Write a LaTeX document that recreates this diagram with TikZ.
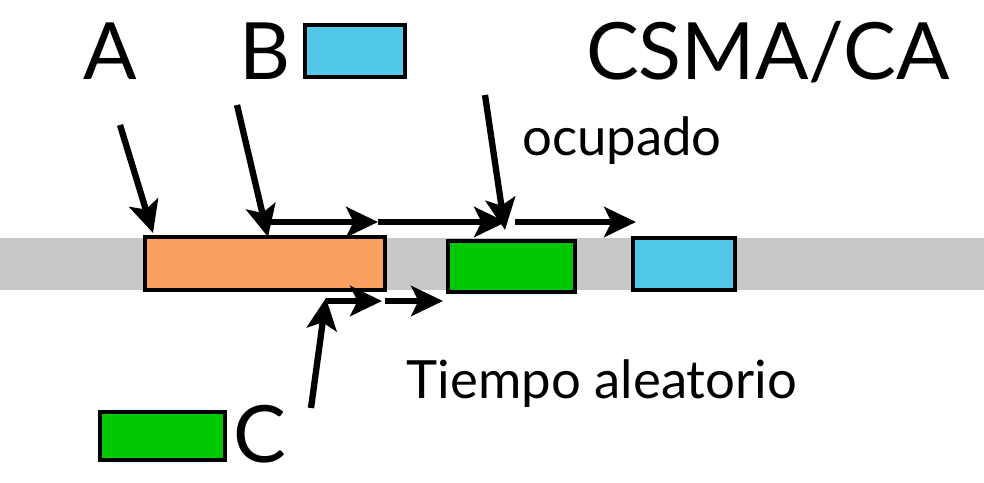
\documentclass[tikz,border=0pt]{standalone}
\usepackage{fontspec}
\setmainfont{Lato}
\usepackage{tikz}
\usetikzlibrary{positioning,calc,arrows.meta}
\definecolor{busgray}{RGB}{200,200,200}
\definecolor{frameorange}{RGB}{250,160,96}
\definecolor{framegreen}{RGB}{0,200,0}
\definecolor{frameblue}{RGB}{82,200,235}

\begin{document}
\begin{tikzpicture}[x=0.02cm, y=-0.02cm, frame/.style={draw=black, line width=2.4pt, inner sep=0pt, minimum height=1.04cm}, station/.style={anchor=base, inner sep=0pt, font=\fontsize{45}{50}\selectfont}, note/.style={anchor=base, inner sep=0pt, font=\fontsize{30}{35}\selectfont}, arrow/.style={-{Stealth[length=18pt 0, width=17pt 0, inset=4pt 0]}, line width=3.6pt}]
\useasboundingbox (0,0) rectangle (984,483);
\fill[busgray] (0,238) rectangle (984,290);
\node[frame, fill=frameorange, minimum width=4.8cm, minimum height=1.06cm] (fa) at (265,263.5) {};
\node[frame, fill=framegreen, minimum width=2.54cm, minimum height=1.02cm] (fc) at (511.5,266.5) {};
\node[frame, fill=frameblue, minimum width=2.04cm] (fb) at (684,264) {};
\node[frame, fill=frameblue, minimum width=2.0cm] (legb) at (355,51) {};
\node[frame, fill=framegreen, minimum width=2.5cm, minimum height=0.96cm] (legc) at (162.5,436) {};
\node[station] (sa) at (110,80) {A};
\node[station] (sb) at (265,80) {B};
\node[station] (sc) at (260,462) {C};
\node[station] (title) at (768,80) {CSMA/CA};
\node[note] (busy) at (622,155) {ocupado};
\node[note] (backoff) at (602,398) {Tiempo aleatorio};
% arrivals
\coordinate (a0) at (120,125);
\coordinate (a1) at (153,233);
\coordinate (b0) at (237,105);
\coordinate (b1) at (268,237);
\coordinate (o0) at (485,95);
\coordinate (o1) at (505,230);
\coordinate (c0) at (311,408);
\coordinate (c1) at (326,298);
\draw[arrow] (a0) -- (a1);
\draw[arrow] (b0) -- (b1);
\draw[arrow] (o0) -- (o1);
\draw[arrow] (c0) -- (c1);
% waiting
\coordinate (t0) at (268,222);
\coordinate (t1) at (378,222);
\coordinate (t2) at (506,222);
\coordinate (t3) at (515,222);
\coordinate (t4) at (636,222);
\draw[arrow] (t0) -- (t1);
\draw[arrow] (t1) -- (t2);
\draw[arrow] (t3) -- (t4);
\coordinate (r0) at (326,301);
\coordinate (r1) at (382,301);
\coordinate (r2) at (385,301);
\coordinate (r3) at (443,301);
\draw[arrow] (r0) -- (r1);
\draw[arrow] (r2) -- (r3);
\end{tikzpicture}
\end{document}
